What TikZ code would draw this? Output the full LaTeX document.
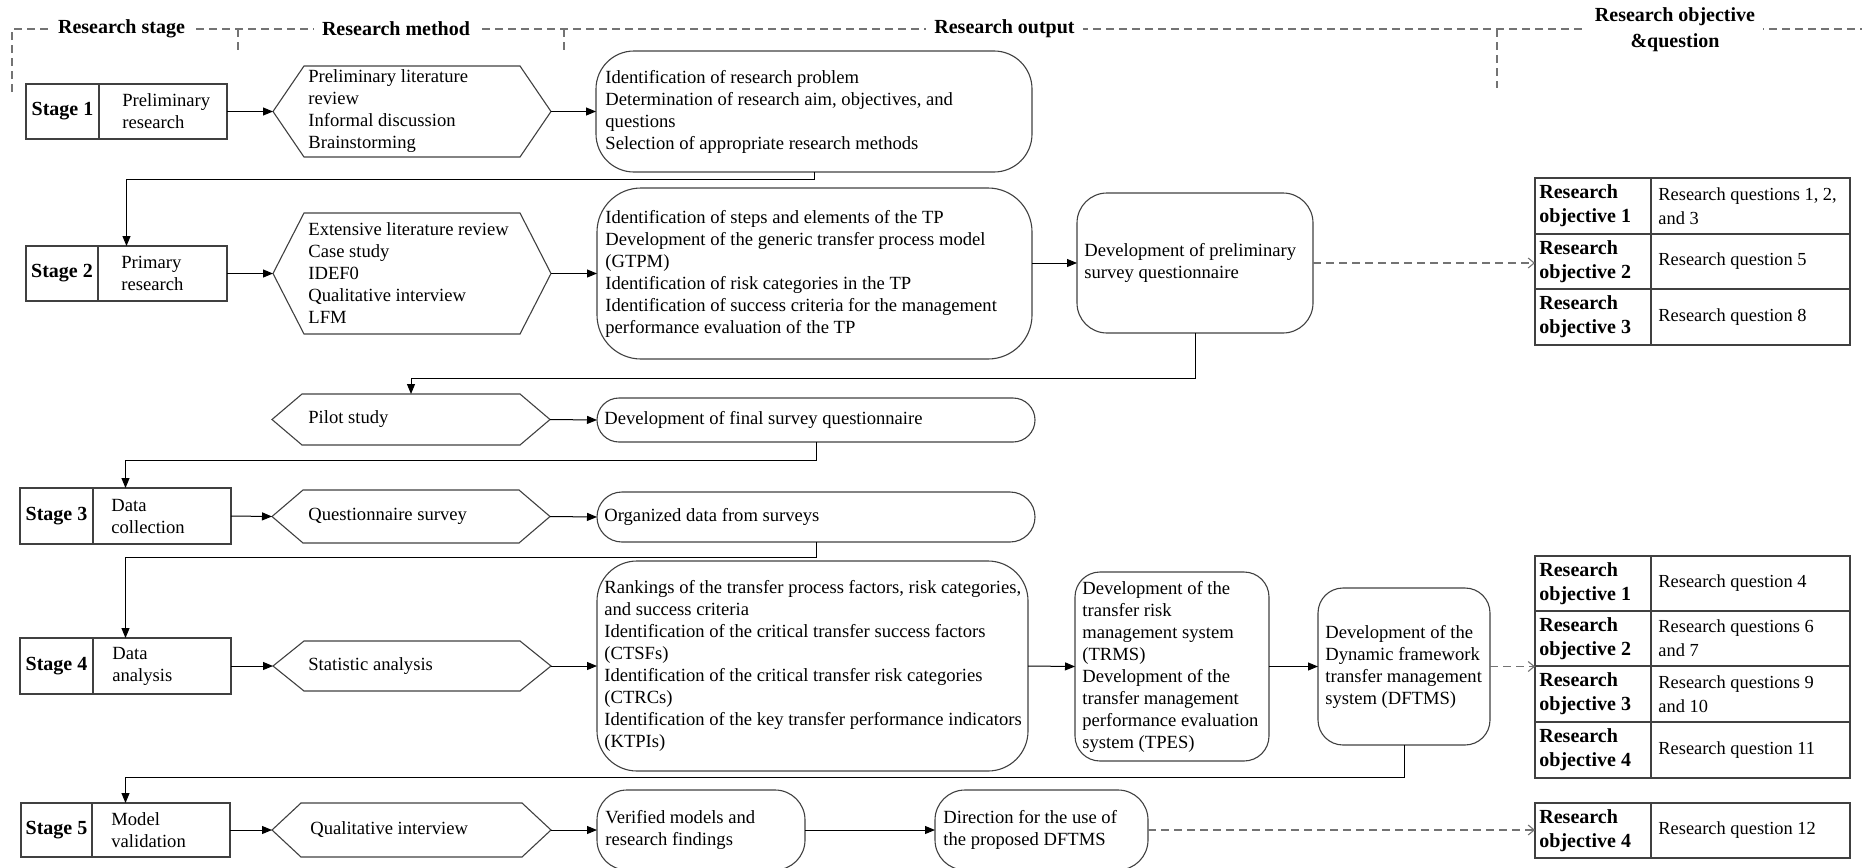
\documentclass[tikz,border=0pt]{standalone}
\usepackage{fontspec}
\setmainfont{Liberation Serif}
\usetikzlibrary{arrows.meta,fit}

% hexagonal "method" outline drawn around a named rectangular region
\newcommand\hexpath[2]{%
  \draw[shp] (#1.west) -- ([xshift=#2]#1.north west) -- ([xshift=-#2]#1.north east)
    -- (#1.east) -- ([xshift=-#2]#1.south east) -- ([xshift=#2]#1.south west) -- cycle;}

% one row of an objective/question table: name, top, bottom, objective no., question text
\newcommand\objrow[5]{%
  \node[shp, area={(1535,#2)(1651,#3)}] (#1l) {};
  \node[shp, area={(1651,#2)(1850,#3)}] (#1r) {};
  \node[objtxt] (#1a) at ([xshift=2pt]#1l.west) {Research\\objective #4};
  \node[qtxt] (#1b) at ([xshift=3.5pt]#1r.west) {#5};}

\begin{document}
\begin{tikzpicture}[x=0.5pt,y=-0.5pt,
  shp/.style={draw=black!75, line width=0.55pt},
  conn/.style={draw=black, line width=0.5pt, -{Triangle[length=5pt,width=4pt]}},
  dconn/.style={draw=black!55, line width=0.55pt, dash pattern=on 4pt off 2.5pt,
                -{Straight Barb[length=3pt,width=5pt]}},
  guide/.style={draw=black!55, line width=0.55pt, dash pattern=on 4pt off 2.5pt},
  area/.style={fit={#1}, inner sep=0pt, outer sep=0pt},
  txt/.style={anchor=west, align=left, inner sep=0pt, font=\fontsize{9.3}{11}\selectfont},
  stagelbl/.style={inner sep=0pt, font=\fontsize{10}{12}\selectfont\bfseries},
  hdr/.style={fill=white, inner xsep=4pt, inner ysep=1pt, align=center,
              font=\fontsize{10}{13}\selectfont\bfseries},
  objtxt/.style={anchor=west, align=left, inner sep=0pt, font=\fontsize{10}{12}\selectfont\bfseries},
  qtxt/.style={anchor=west, align=left, inner sep=0pt, font=\fontsize{9.2}{12}\selectfont},
]
\useasboundingbox (0,0) rectangle (1867,867);
\clip (0,0) rectangle (1867,867);

% ---------- column headings ----------
\draw[guide] (12,92) -- (12,29) -- (1862,29);
\draw[guide] (238,29) -- (238,53);
\draw[guide] (564,29) -- (564,53);
\draw[guide] (1497,29) -- (1497,88);
\node[hdr] (hs) at (121.5,29) {Research stage};
\node[hdr] (hm) at (396,29) {Research method};
\node[hdr] (ho) at (1004.5,29) {Research output};
\node[hdr] (hq) at (1675,29.5) {Research objective\\\&question};

% ---------- stage boxes ----------
\node[shp, area={(26,84)(227,139)}] (s1) {};
\draw[shp] (99,84) -- (99,139);
\node[stagelbl] (s1n) at (62.5,111.5) {Stage 1};
\node[txt] (s1t) at (122,111.5) {Preliminary\\research};

\node[shp, area={(26,246)(227,301)}] (s2) {};
\draw[shp] (98,246) -- (98,301);
\node[stagelbl] (s2n) at (62,273.5) {Stage 2};
\node[txt] (s2t) at (121,273.5) {Primary\\research};

\node[shp, area={(20,488)(231,544)}] (s3) {};
\draw[shp] (93,488) -- (93,544);
\node[stagelbl] (s3n) at (56.5,516) {Stage 3};
\node[txt] (s3t) at (111,516) {Data\\collection};

\node[shp, area={(20,638)(231,694)}] (s4) {};
\draw[shp] (93,638) -- (93,694);
\node[stagelbl] (s4n) at (56.5,666) {Stage 4};
\node[txt] (s4t) at (112,666) {Data\\analysis};

\node[shp, area={(21,803)(230,857)}] (s5) {};
\draw[shp] (92,803) -- (92,857);
\node[stagelbl] (s5n) at (56.5,830) {Stage 5};
\node[txt] (s5t) at (111,830) {Model\\validation};

% ---------- research methods ----------
\node[area={(273,66)(551,157)}] (h1) {}; \hexpath{h1}{15.5pt}
\node[txt] (h1t) at (308,111.5) {Preliminary literature\\review\\Informal discussion\\Brainstorming};

\node[area={(273,213)(551,334)}] (h2) {}; \hexpath{h2}{15.5pt}
\node[txt] (h2t) at (308,273.5) {Extensive literature review\\Case study\\IDEF0\\Qualitative interview\\LFM};

\node[area={(272,394)(550,445)}] (hp) {}; \hexpath{hp}{15pt}
\node[txt] (hpt) at (308,419.5) {Pilot study};

\node[area={(272,490)(550,543)}] (h3) {}; \hexpath{h3}{15.5pt}
\node[txt] (h3t) at (308,516.5) {Questionnaire survey};

\node[area={(273,641)(551,691)}] (h4) {}; \hexpath{h4}{15.5pt}
\node[txt] (h4t) at (308,666) {Statistic analysis};

\node[area={(272,803)(551,857)}] (h5) {}; \hexpath{h5}{14.5pt}
\node[txt] (h5t) at (310,830) {Qualitative interview};

% ---------- research outputs ----------
\node[shp, rounded corners=19pt, area={(596,51)(1032,172)}] (o1) {};
\node[txt] (o1t) at (605,111.5) {Identification of research problem\\Determination of research aim, objectives, and\\questions\\Selection of appropriate research methods};

\node[shp, rounded corners=22pt, area={(597,188)(1032,359)}] (o2) {};
\node[txt] (o2t) at (605,273.5) {Identification of steps and elements of the TP\\Development of the generic transfer process model\\(GTPM)\\Identification of risk categories in the TP\\Identification of success criteria for the management\\performance evaluation of the TP};

\node[shp, rounded corners=15pt, area={(1077,193)(1313,333)}] (o2b) {};
\node[txt] (o2bt) at (1084,263) {Development of preliminary\\survey questionnaire};

\node[shp, rounded corners=11pt, area={(597,398)(1035,442)}] (o3) {};
\node[txt] (o3t) at (604,420) {Development of final survey questionnaire};

\node[shp, rounded corners=12.5pt, area={(597,492)(1035,542)}] (o4) {};
\node[txt] (o4t) at (604,517) {Organized data from surveys};

\node[shp, rounded corners=20pt, area={(597,561)(1028,771)}] (o5) {};
\node[txt] (o5t) at (604,666) {Rankings of the transfer process factors, risk categories,\\and success criteria\\Identification of the critical transfer success factors\\(CTSFs)\\Identification of the critical transfer risk categories\\(CTRCs)\\Identification of the key transfer performance indicators\\(KTPIs)};

\node[shp, rounded corners=12.5pt, area={(1075,572)(1269,761)}] (o6) {};
\node[txt] (o6t) at (1082,666.5) {Development of the\\transfer risk\\management system\\(TRMS)\\Development of the\\transfer management\\performance evaluation\\system (TPES)};

\node[shp, rounded corners=12.5pt, area={(1318,588)(1490,745)}] (o7) {};
\node[txt] (o7t) at (1325,666.5) {Development of the\\Dynamic framework\\transfer management\\system (DFTMS)};

\node[shp, rounded corners=15pt, area={(597,790)(805,870)}] (o8) {};
\node[txt] (o8t) at (605,830) {Verified models and\\research findings};

\node[shp, rounded corners=15pt, area={(935,790)(1148,870)}] (o9) {};
\node[txt] (o9t) at (943,830) {Direction for the use of\\the proposed DFTMS};

% ---------- objective / question tables ----------
\objrow{ra}{178}{234}{1}{Research questions 1, 2,\\and 3}
\objrow{rb}{234}{289}{2}{Research question 5}
\objrow{rc}{289}{345}{3}{Research question 8}
\node[area={(ral)(rcr)}] (t1) {};

\objrow{rd}{556}{611}{1}{Research question 4}
\objrow{re}{611}{666}{2}{Research questions 6\\and 7}
\objrow{rf}{666}{722}{3}{Research questions 9\\and 10}
\objrow{rg}{722}{778}{4}{Research question 11}
\node[area={(rdl)(rgr)}] (t2) {};

\objrow{rh}{803}{858}{4}{Research question 12}
\node[area={(rhl)(rhr)}] (t3) {};

% ---------- connectors ----------
\draw[conn] (s1.east) -- (h1.west);
\draw[conn] (h1.east) -- (o1.west);
\draw[conn] (o1.south) -- ++(0,7) -| (s2.north);

\draw[conn] (s2.east) -- (h2.west);
\draw[conn] (h2.east) -- (o2.west);
\draw[conn] (o2.east |- o2b.west) -- (o2b.west);
\draw[dconn] (o2b.east) -- (o2b.east -| t1.west);
\draw[conn] (o2b.south) -- ++(0,45) -| (hp.north);

\draw[conn] (hp.east) -- (o3.west);
\draw[conn] (o3.south) -- ++(0,18) -| (s3.north);

\draw[conn] (s3.east) -- (h3.west);
\draw[conn] (h3.east) -- (o4.west);
\draw[conn] (o4.south) -- ++(0,15) -| (s4.north);

\draw[conn] (s4.east) -- (h4.west);
\draw[conn] (h4.east) -- (o5.west);
\draw[conn] (o5.east) -- (o6.west);
\draw[conn] (o6.east) -- (o7.west);
\draw[dconn] (o7.east) -- (o7.east -| t2.west);
\draw[conn] (o7.south) -- ++(0,32) -| (s5.north);

\draw[conn] (s5.east) -- (h5.west);
\draw[conn] (h5.east) -- (o8.west);
\draw[conn] (o8.east) -- (o9.west);
\draw[dconn] (o9.east) -- (o9.east -| t3.west);
\end{tikzpicture}
\end{document}
